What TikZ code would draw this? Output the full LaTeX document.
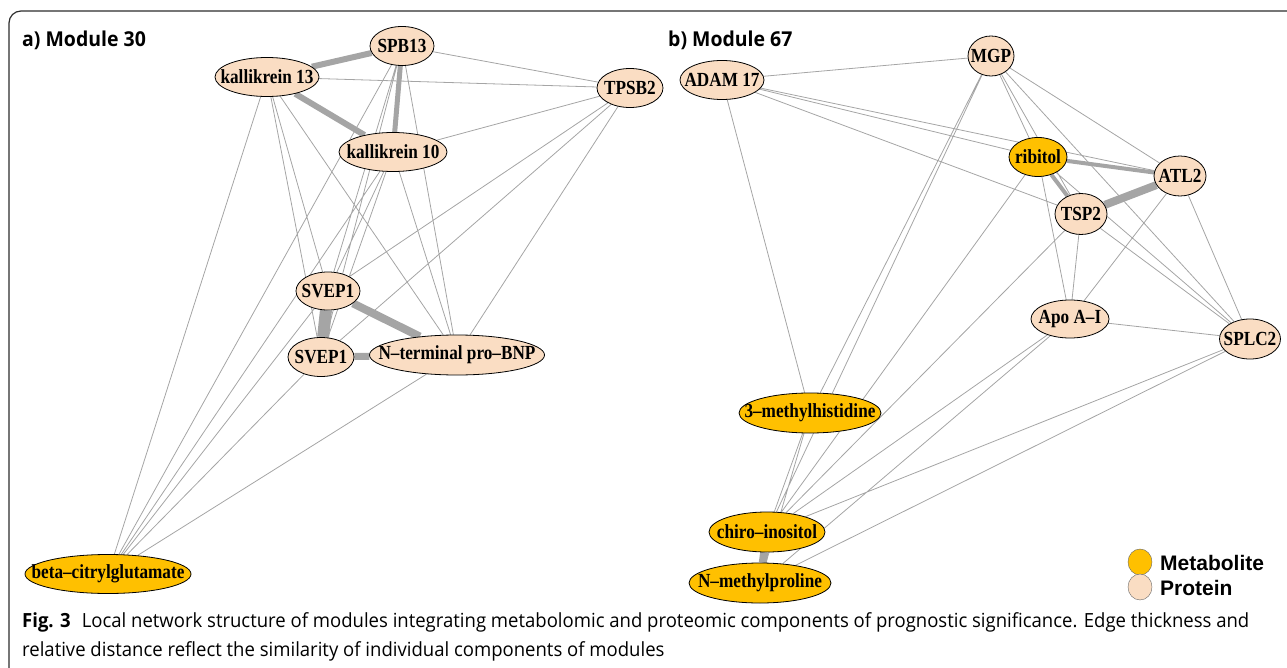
\documentclass[tikz,border=0pt]{standalone}
\usepackage{fontspec}
\setmainfont{Liberation Serif}
\newfontfamily\capfont{Open Sans}[FakeStretch=0.95]
\newfontfamily\legfont{Liberation Sans}
\newfontfamily\netfont{Liberation Serif}[FakeStretch=0.86]
\usetikzlibrary{shapes.geometric,backgrounds}
\definecolor{protfill}{RGB}{250,221,195}
\definecolor{metafill}{RGB}{255,192,0}
\definecolor{edgegray}{RGB}{165,165,165}
\definecolor{framegray}{RGB}{45,45,45}
\newcommand{\lab}[1]{\makebox[0pt]{#1}}
\begin{document}
\begin{tikzpicture}[x=1pt,y=-1pt,
	prot/.style={ellipse,draw=black,line width=0.8pt,fill=protfill,inner sep=0pt,minimum height=39pt,font=\netfont\bfseries\fontsize{20}{20}\selectfont},
	meta/.style={prot,fill=metafill},
	lnk/.style={edgegray,line width=0.8pt},
	thk/.style={edgegray,line width=#1},
	title/.style={anchor=base west,inner sep=0pt,font=\capfont\bfseries\fontsize{20.5}{21}\selectfont},
	capline/.style={anchor=base west,inner sep=0pt,font=\capfont\fontsize{19.5}{20}\selectfont}]
	\useasboundingbox (0,0) rectangle (1287,668);
	\draw[framegray,line width=1.2pt,rounded corners=12pt] (9,668) -- (9,11) -- (1287,11);

	% a) Module 30
	\node[title] (ta) at (22,47) {a) Module 30};
	\node[prot,minimum width=64pt] (spb) at (402,46) {\lab{SPB13}};
	\node[prot,minimum width=104pt] (klk13) at (267,77) {\lab{kallikrein 13}};
	\node[prot,minimum width=66pt] (tpsb) at (630,88) {\lab{TPSB2}};
	\node[prot,minimum width=108pt] (klk10) at (393,152) {\lab{kallikrein 10}};
	\node[prot,minimum width=64pt,minimum height=38pt] (svepA) at (328,291) {\lab{SVEP1}};
	\node[prot,minimum width=66pt] (svepB) at (321,357) {\lab{SVEP1}};
	\node[prot,minimum width=175pt,minimum height=40pt] (ntbnp) at (457,355) {\lab{N–terminal pro–BNP}};
	\node[meta,minimum width=166pt] (bcg) at (108,574) {\lab{beta–citrylglutamate}};

	% b) Module 67
	\node[title] (tb) at (668,47) {b) Module 67};
	\node[prot,minimum width=84pt] (adam) at (722,80) {\lab{ADAM 17}};
	\node[prot,minimum width=46pt,minimum height=40pt] (mgp) at (991,56) {\lab{MGP}};
	\node[meta,minimum width=58pt] (rib) at (1038,157) {\lab{ribitol}};
	\node[prot,minimum width=52pt,minimum height=40pt] (atl) at (1180,176) {\lab{ATL2}};
	\node[prot,minimum width=52pt,minimum height=41pt] (tsp) at (1081,214) {\lab{TSP2}};
	\node[prot,minimum width=78pt,minimum height=38pt] (apo) at (1070,319) {\lab{Apo A–I}};
	\node[prot,minimum width=61pt,minimum height=40pt] (splc) at (1250,339) {\lab{SPLC2}};
	\node[meta,minimum width=142pt,minimum height=40pt] (mh3) at (810,413) {\lab{3–methylhistidine}};
	\node[meta,minimum width=116pt,minimum height=40pt] (chiro) at (767,532) {\lab{chiro–inositol}};
	\node[meta,minimum width=142pt,minimum height=40pt] (nmp) at (760,583) {\lab{N–methylproline}};

	\begin{pgfonlayer}{background}
		\draw[lnk] (klk13) -- (tpsb) (spb) -- (tpsb) (klk10) -- (tpsb)
			(tpsb) -- (svepA) (tpsb) -- (svepB) (tpsb) -- (ntbnp)
			(klk13) -- (svepA) (klk13) -- (svepB) (klk13) -- (ntbnp) (klk13) -- (bcg)
			(spb) -- (svepA) (spb) -- (svepB) (spb) -- (ntbnp) (spb) -- (bcg)
			(klk10) -- (svepA) (klk10) -- (svepB) (klk10) -- (ntbnp) (klk10) -- (bcg)
			(svepA) -- (bcg) (svepB) -- (bcg) (ntbnp) -- (bcg);
		\draw[thk=6pt] (klk13) -- (spb);
		\draw[thk=6pt] (klk13) -- (klk10);
		\draw[thk=5pt] (spb) -- (klk10);
		\draw[thk=12pt] (svepA) -- (svepB);
		\draw[thk=8pt] (svepA) -- (ntbnp);
		\draw[thk=7pt] (svepB) -- (ntbnp);

		\draw[lnk] (adam) -- (mgp) (adam) -- (rib) (adam) -- (atl) (adam) -- (tsp) (adam) -- (mh3)
			(mgp) -- (mh3) (mgp) -- (chiro) (mgp) -- (rib) (mgp) -- (tsp) (mgp) -- (atl) (mgp) -- (splc)
			(rib) -- (apo) (rib) -- (chiro) (rib) -- (splc)
			(atl) -- (apo) (atl) -- (splc)
			(tsp) -- (apo) (tsp) -- (splc) (tsp) -- (chiro)
			(apo) -- (splc) (apo) -- (chiro) (apo) -- (nmp)
			(splc) -- (chiro) (splc) -- (nmp)
			(mh3) -- (chiro) (mh3) -- (nmp);
		\draw[thk=4pt] (rib) -- (atl);
		\draw[thk=4pt] (rib) -- (tsp);
		\draw[thk=8pt] (atl) -- (tsp);
		\draw[thk=8pt] (chiro) -- (nmp);
	\end{pgfonlayer}

	% legend
	\node[ellipse,draw=black!60,fill=metafill,minimum width=24pt,minimum height=26pt,inner sep=0pt] (kmeta) at (1140,562) {};
	\node[ellipse,draw=black!60,fill=protfill,minimum width=24pt,minimum height=26pt,inner sep=0pt] (kprot) at (1140,587) {};
	\node[anchor=base west,inner sep=0pt,font=\legfont\bfseries\fontsize{21}{21}\selectfont] (tmeta) at (1160,570) {Metabolite};
	\node[anchor=base west,inner sep=0pt,font=\legfont\bfseries\fontsize{21}{21}\selectfont] (tprot) at (1160,595) {Protein};

	% caption
	\node[capline] (cap1) at (22,627) {\textbf{Fig. 3}\hspace{11pt}Local network structure of modules integrating metabolomic and proteomic components of prognostic significance. Edge thickness and};
	\node[capline] (cap2) at (22,656) {relative distance reflect the similarity of individual components of modules};
\end{tikzpicture}
\end{document}
